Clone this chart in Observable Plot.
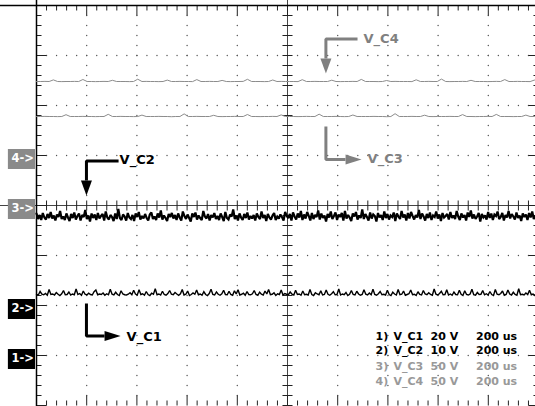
<!DOCTYPE html>
<html>
<head>
<meta charset="utf-8">
<script src="https://cdn.jsdelivr.net/npm/d3@7"></script>
<script src="https://cdn.jsdelivr.net/npm/@observablehq/plot@0.6"></script>
<style>
  html, body { margin: 0; padding: 0; background: #fff; }
  #chart { width: 535px; height: 406px; overflow: hidden; }
</style>
</head>
<body>
<div id="chart"></div>
<script>
// ---------------- DATA ----------------
const channelNames = ["V_C1", "V_C2", "V_C3", "V_C4"];
const voltsPerDiv = [20, 10, 50, 50];
const timePerDiv = "200 us";
const markerLabels = ["1->", "2->", "3->", "4->"];
const markerLevels = [1, 2, 4, 5];          // reference level of each channel, in divisions
const timeSpanUs = 2000;                     // 10 divisions x 200 us

const c1 = [
24.4,24.2,25.6,24.5,24.3,24.8,24.1,26.4,24.4,24.6,
24.2,25.2,24.5,24.0,24.7,26.0,24.3,24.4,25.4,24.2,
24.6,24.3,26.6,24.4,24.8,24.1,25.8,24.5,24.2,24.9,
24.4,24.2,25.5,26.2,24.3,24.6,24.4,25.0,24.1,24.7,
24.3,26.5,24.5,24.2,25.3,24.4,24.0,25.9,24.6,24.3,
24.2,24.5,25.1,24.3,26.1,24.6,24.2,26.3,24.4,24.7,
24.1,25.6,24.4,24.0,24.9,24.5,26.7,24.3,24.6,24.2,
25.7,24.4,24.1,24.8,26.0,24.5,24.3,25.2,24.6,24.1,
24.7,26.4,24.2,24.5,25.8,24.0,24.4,25.0,24.5,26.2,
24.3,24.6,24.1,25.5,24.4,24.0,24.8,26.5,24.4,24.2,
25.4,24.5,24.1,24.7,26.1,24.4,24.3,25.7,24.4,24.1,
25.9,24.6,26.3,24.2,24.5,24.9,24.1,25.6,24.4,24.3,
24.7,26.0,24.4,24.1,25.3,24.5,24.2,25.8,24.6,26.4,
24.3,24.5,25.1,24.0,24.7,24.4,26.2,24.2,24.8,24.5,
24.3,25.4,24.5,24.2,26.1,24.4,24.6,24.1,25.8,24.3,
24.5,24.2,26.4,24.4,24.0,25.1,24.6,24.3,25.9,24.2,
24.4,26.2,24.5,24.1,24.7,25.5,24.3,24.4,26.6,24.2,
24.6,24.3,25.2,24.0,24.5,26.0,24.4,24.2,25.7,24.6,
24.1,24.4,26.3,24.5,24.2,25.0,24.3,26.5,24.4,24.1,
24.7,25.6,24.3,24.5,24.2,26.1,24.4,24.0,25.3,24.6,
24.2,26.4,24.3,24.5,25.8,24.1,24.4,24.7,26.2,24.3,
24.5,24.0,25.5,24.4,24.2,26.0,24.6,24.3,25.1,24.4,
24.1,26.6,24.5,24.2,24.8,25.7,24.3,24.4,26.3,24.2,
24.6,24.1,25.4,24.4,24.3,26.1,24.5,24.0,25.9,24.4,
24.2,24.6,26.5,24.3,24.1,25.2,24.4,24.5,26.0,24.3,
24.7,24.2,25.6,24.4,24.0,26.4,24.5,24.3,24.8,25.8,
24.1,24.4,26.2,24.6,24.2,25.3,24.4,24.1,26.7,24.3,
24.5,24.2,25.0,24.4,26.1,24.3,24.6,24.0,25.5,24.4];
const c2 = [
18.4,17.3,18.1,17.1,18.5,17.6,17.2,18.3,17.5,18.7,
17.4,18.0,17.0,18.2,17.7,18.9,17.3,17.8,17.1,18.4,
17.6,16.9,18.3,17.5,18.6,17.2,17.9,18.4,17.0,18.1,
17.7,19.1,17.3,18.0,16.8,18.4,17.5,18.2,17.1,18.5,
17.4,17.9,18.3,17.0,18.8,17.6,17.2,18.1,17.7,16.9,
18.4,17.3,19.3,17.5,17.1,18.2,17.8,17.0,18.5,17.6,
17.3,18.1,16.9,18.4,17.7,18.7,17.2,17.9,17.4,18.3,
17.5,17.0,18.2,18.6,17.3,17.8,17.1,18.4,17.6,19.0,
17.2,18.0,17.5,16.9,18.3,17.7,18.5,17.4,18.1,17.1,
18.4,17.6,17.0,18.8,17.9,17.3,18.2,17.5,16.8,18.4,
17.7,18.6,17.2,18.0,17.5,17.1,18.9,17.8,17.4,18.3,
17.0,18.1,17.6,18.5,17.3,17.9,17.1,18.4,17.7,16.9,
18.7,17.5,17.2,18.2,17.8,19.2,17.3,18.0,17.0,18.4,
17.6,17.1,18.3,17.5,18.6,17.2,17.9,17.4,18.1,17.0,
18.4,17.7,17.3,18.8,17.5,18.1,16.9,18.3,17.6,17.2,
18.0,18.5,17.1,17.8,17.4,18.2,17.7,17.0,18.7,17.9,
17.5,18.3,17.0,18.6,17.8,17.2,18.4,17.6,18.9,17.1,
18.2,17.4,18.7,17.9,17.0,18.5,17.3,18.1,17.7,19.0,
17.2,18.4,17.5,18.0,16.8,18.3,17.6,18.8,17.3,17.9,
18.6,17.1,18.2,17.7,18.5,17.0,18.9,17.4,18.1,17.6,
16.9,18.4,17.8,18.7,17.2,18.0,17.5,19.2,17.3,18.3,
17.7,17.0,18.6,17.4,18.2,17.9,16.8,18.5,17.6,18.1,
17.1,18.8,17.5,18.3,17.2,18.0,17.7,18.6,16.9,18.4,
17.8,17.3,18.9,17.6,18.2,17.0,18.5,17.4,18.7,17.9,
17.2,18.1,17.6,19.1,17.3,18.4,17.8,17.0,18.3,17.5,
18.6,17.1,18.0,17.7,18.8,17.4,18.2,16.9,18.5,17.6,
17.9,18.3,17.2,18.7,17.5,18.0,17.3,18.9,17.8,17.1,
18.4,17.6,18.1,17.0,18.6,17.7,19.0,17.4,18.2,17.3,
17.8,18.5,16.8,18.3,17.6,18.0,17.2,18.7,17.5,18.4,
17.1,18.2,17.9,18.8,17.3,17.7,18.5,17.0,18.1,17.6,
18.9,17.4,18.3,17.8,17.2,18.6,17.5,18.0,16.9,18.4,
17.7,18.2,17.1,18.5,17.6,18.8,17.3,17.9,18.3,17.5];
const c3 = [
89,89,89.1,89,89,88.9,89,90.8,89,89,
89,89.1,89,89,88.9,89,89,91.2,89,89,
89.1,89,89,88.9,89,90.4,89,89,89,89.1,
89,89,88.8,89,89,91.6,89,89,89.1,89,
89,89,90.2,89,88.9,89,89,89.1,89,89,
91.0,89,89,88.9,89,89,89.1,89,90.6,89,
89,89,88.9,89,89.1,89,89,91.3,89,89,
89,89.1,89,88.9,89,90.5,89,89,89,89,
89.1,89,89,88.8,89,91.8,89,89,89,89.1,
89,89,90.3,89,88.9,89,89,89,89.1,89,
89,90.9,89,89,88.9,89,89,89.1,89,91.1,
89,89,89,88.9,89,89,90.4,89,89,89.1];
const c4 = [
74,74,74.1,74,75.6,74,73.9,74,74,74.1,
74,76.0,74,74,73.9,74,74.1,74,75.2,74,
74,74,73.9,74,76.3,74,74.1,74,74,73.9,
74,75.4,74,74,74.1,74,74,73.9,75.9,74,
74,74.1,74,74,75.1,74,73.9,74,74,74.1,
76.2,74,74,74,73.9,74,75.5,74,74.1,74,
74,74,73.9,75.8,74,74,74.1,74,74,74,
75.3,74,73.9,74,74,74.1,74,76.1,74,74,
74,73.9,74,75.0,74,74.1,74,74,74,73.9,
75.7,74,74,74.1,74,74,76.4,74,73.9,74,
74,74.1,74,75.2,74,74,74,73.9,74,74.1,
74,75.9,74,74,74.1,74,74,73.9,75.4,74];
const channelValues = [c1, c2, c3, c4];

// ---------------- STYLE ----------------
const dark = "#000000";
const grey = "#808080";
const channelColors = [dark, dark, grey, grey];
const traceColors = ["#000000", "#000000", "#8c8c8c", "#8c8c8c"];
const traceWidths = [1.4, 2.2, 1, 1];
const legendColors = [dark, dark, "#999999", "#999999"];
const font = "DejaVu Sans, Liberation Sans, sans-serif";

// ---------------- DERIVED TABLES ----------------
const traces = channelValues.map((vals, c) =>
  vals.map((v, i) => ({t: i * timeSpanUs / (vals.length - 1), y: markerLevels[c] + v / voltsPerDiv[c]})));

// graticule dots
const gridDots = [];
for (let k = 1; k <= 9; k++) if (k !== 5) for (let j = 1; j < 40; j++) gridDots.push({t: k * 200, y: j * 0.2});
for (let m = 1; m <= 7; m++) if (m !== 4) for (let i = 1; i < 50; i++) gridDots.push({t: i * 40, y: m});

// graticule ticks
const ticks = [];
for (let i = 0; i <= 50; i++) {
  const t = i * 40, major = i % 5 === 0;
  ticks.push({x1: t, x2: t, y1: 8, y2: 8 - (major ? 0.2 : 0.1)});
  ticks.push({x1: t, x2: t, y1: 0, y2: major ? 0.2 : 0.1});
  ticks.push({x1: t, x2: t, y1: 3.9, y2: 4.1});
}
for (let j = 0; j <= 40; j++) {
  const d = j * 0.2, major = j % 5 === 0;
  ticks.push({x1: 0, x2: major ? 40 : 20, y1: d, y2: d});
  ticks.push({x1: 2000, x2: 2000 - (major ? 40 : 20), y1: d, y2: d});
  ticks.push({x1: 980, x2: 1020, y1: d, y2: d});
}

// annotation callouts (time in us, level in divisions)
const callouts = [
  {path: [[199, 2.04], [199, 1.39], [271, 1.39]], tip: [335, 1.39], dir: "right", text: [359, 1.37]},
  {path: [[327, 4.89], [199, 4.89], [199, 4.5]], tip: [199, 4.2], dir: "down", text: [331, 4.92]},
  {path: [[1153, 5.58], [1153, 4.92], [1231, 4.92]], tip: [1295, 4.92], dir: "right", text: [1319, 4.94]},
  {path: [[1279, 7.33], [1153, 7.33], [1153, 6.94]], tip: [1153, 6.64], dir: "down", text: [1303, 7.33]}
];
const headDown = {draw(ctx) { ctx.moveTo(0, 0); ctx.lineTo(-5.5, -15); ctx.lineTo(5.5, -15); ctx.closePath(); }};
const headRight = {draw(ctx) { ctx.moveTo(0, 0); ctx.lineTo(-16, -5); ctx.lineTo(-16, 5); ctx.closePath(); }};

// ---------------- MARKS ----------------
const marks = [];
marks.push(Plot.dot(gridDots, {x: "t", y: "y", r: 0.7, fill: "#555", stroke: "none"}));
marks.push(Plot.ruleX([1000], {stroke: "#444", strokeWidth: 1}));
marks.push(Plot.ruleY([4], {stroke: "#444", strokeWidth: 1}));
marks.push(Plot.link(ticks, {x1: "x1", x2: "x2", y1: "y1", y2: "y2", stroke: "#222", strokeWidth: 1}));
marks.push(Plot.ruleX([0], {stroke: "#000", strokeWidth: 1.5}));
marks.push(Plot.ruleY([8], {stroke: "#000", strokeWidth: 1.5}));

// traces
traces.forEach((rows, c) => {
  marks.push(Plot.line(rows, {x: "t", y: "y", stroke: traceColors[c], strokeWidth: traceWidths[c],
    strokeLinejoin: "miter", strokeMiterlimit: 2}));
});

// callouts
callouts.forEach((a, c) => {
  const col = channelColors[c];
  marks.push(Plot.line(a.path, {x: d => d[0], y: d => d[1], stroke: col, strokeWidth: 3,
    strokeLinejoin: "miter", strokeLinecap: "butt"}));
  marks.push(Plot.dot([a.tip], {x: d => d[0], y: d => d[1], symbol: a.dir === "down" ? headDown : headRight,
    fill: col, stroke: "none"}));
  marks.push(Plot.text([a.text], {x: d => d[0], y: d => d[1], text: () => channelNames[c], fill: col,
    textAnchor: "start", fontSize: 13, fontWeight: "bold", fontFamily: font}));
});

// channel level markers
markerLevels.forEach((lv, c) => {
  const col = c < 2 ? "#000" : "#8a8a8a";
  marks.push(Plot.rect([lv], {x1: -112, x2: -4, y1: d => d + 0.12, y2: d => d - 0.28, fill: col}));
  marks.push(Plot.text([lv], {x: -100, y: d => d - 0.06, text: () => markerLabels[c], fill: "#fff",
    textAnchor: "start", fontSize: 11.5, fontWeight: "bold", fontFamily: font}));
});

// legend
const legendRowsY = [1.39, 1.105, 0.79, 0.475];
const legendCols = [
  {x: 1351, f: (c) => (c + 1) + ")"},
  {x: 1422, f: (c) => channelNames[c]},
  {x: 1570, f: (c) => String(voltsPerDiv[c])},
  {x: 1646, f: () => "V"},
  {x: 1751, f: () => timePerDiv}
];
channelNames.forEach((name, c) => {
  legendCols.forEach(col => {
    marks.push(Plot.text([c], {x: col.x, y: legendRowsY[c], text: d => col.f(d), fill: legendColors[c],
      textAnchor: "start", fontSize: 11, fontWeight: "bold", fontFamily: font}));
  });
});

const chart = Plot.plot({
  width: 535,
  height: 406,
  marginLeft: 0, marginRight: 0, marginTop: 0, marginBottom: 0,
  x: {domain: [0, timeSpanUs], range: [36, 538], axis: null},
  y: {domain: [0, 8], range: [405, 5], axis: null},
  style: {background: "#fff", fontFamily: font, overflow: "hidden"},
  marks
});
document.getElementById("chart").appendChild(chart);
</script>
</body>
</html>
